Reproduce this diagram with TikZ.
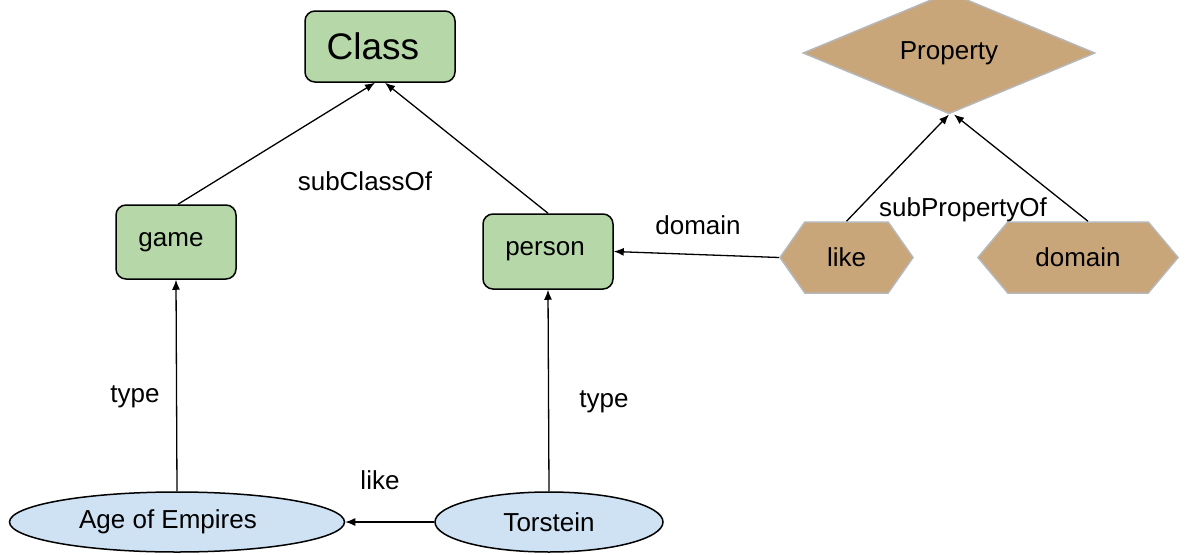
\documentclass[tikz,border=0pt]{standalone}
\usepackage{fontspec}
\setmainfont{Liberation Sans}
\usetikzlibrary{shapes.geometric,shapes.symbols,arrows.meta}
\definecolor{clsgreen}{HTML}{B6D7A8}
\definecolor{indblue}{HTML}{CFE2F3}
\definecolor{proptan}{HTML}{C9A57A}
\definecolor{propgray}{HTML}{B7B7B7}
\tikzset{
  lbl/.style={font=\fontsize{26}{30}\selectfont, inner sep=0pt},
  clsbox/.style={draw=black, line width=1.5pt, fill=clsgreen, rounded corners=10pt, inner sep=0pt, font=\fontsize{26}{30}\selectfont},
  indell/.style={ellipse, draw=black, line width=1.5pt, fill=indblue, inner sep=0pt, font=\fontsize{26}{30}\selectfont},
  prophex/.style={signal, signal to=west and east, draw=propgray, line width=1.5pt, fill=proptan, inner sep=0pt, font=\fontsize{26}{30}\selectfont},
  propdia/.style={diamond, draw=propgray, line width=1.5pt, fill=proptan, inner sep=0pt, font=\fontsize{26}{30}\selectfont},
  arr/.style={line width=1.3pt, -{Latex[length=10pt,width=8pt]}},
}
\begin{document}
\begin{tikzpicture}[x=1pt,y=-1pt]
\useasboundingbox (0,0) rectangle (1188,554);
% class nodes
\node[clsbox, minimum width=150pt, minimum height=71pt, font=\fontsize{37}{42}\selectfont] (class) at (380,46.5) {\hspace*{-14pt}Class};
\node[clsbox, minimum width=120pt, minimum height=74pt] (game) at (176,242) {\hspace*{-10pt}game};
\node[clsbox, minimum width=130pt, minimum height=75pt] (person) at (548,251.5) {\hspace*{-6pt}person};
% property nodes
\node[propdia, minimum width=292pt, minimum height=99pt] (property) at (949,53) {Property};
\node[prophex, signal pointer angle=110, minimum width=133pt, minimum height=71pt] (like) at (846.5,257.5) {like};
\node[prophex, signal pointer angle=100, minimum width=200pt, minimum height=71pt] (domain) at (1078,257.5) {domain};
% individuals
\node[indell, minimum width=335pt, minimum height=60pt] (aoe) at (177,522) {\hspace*{-18pt}Age of Empires};
\node[indell, minimum width=228pt, minimum height=60pt] (torstein) at (549,522) {Torstein};
% edges
\draw[arr] ([xshift=2pt]game.north) -- ([xshift=-5pt]class.south);
\draw[arr] (person.north) -- ([xshift=5pt]class.south);
\draw[arr] (aoe.north) -- (game.south);
\draw[arr] (torstein.north) -- (person.south);
\draw[arr] (torstein.west) -- (aoe.east);
\draw[arr] (like.west) -- (person.east);
\draw[arr] (like.north) -- (property.south);
\draw[arr] ([xshift=10pt]domain.north) -- ([xshift=5pt]property.south);
% labels
\node[lbl] (lsubclass) at (365,181) {subClassOf};
\node[lbl] (ltype1) at (135,397) {type};
\node[lbl] (ltype2) at (604,402) {type};
\node[lbl] (llike) at (380,480) {like};
\node[lbl] (ldomain) at (698,225) {domain};
\node[lbl] (lsubprop) at (963,210) {subPropertyOf};
\end{tikzpicture}
\end{document}
